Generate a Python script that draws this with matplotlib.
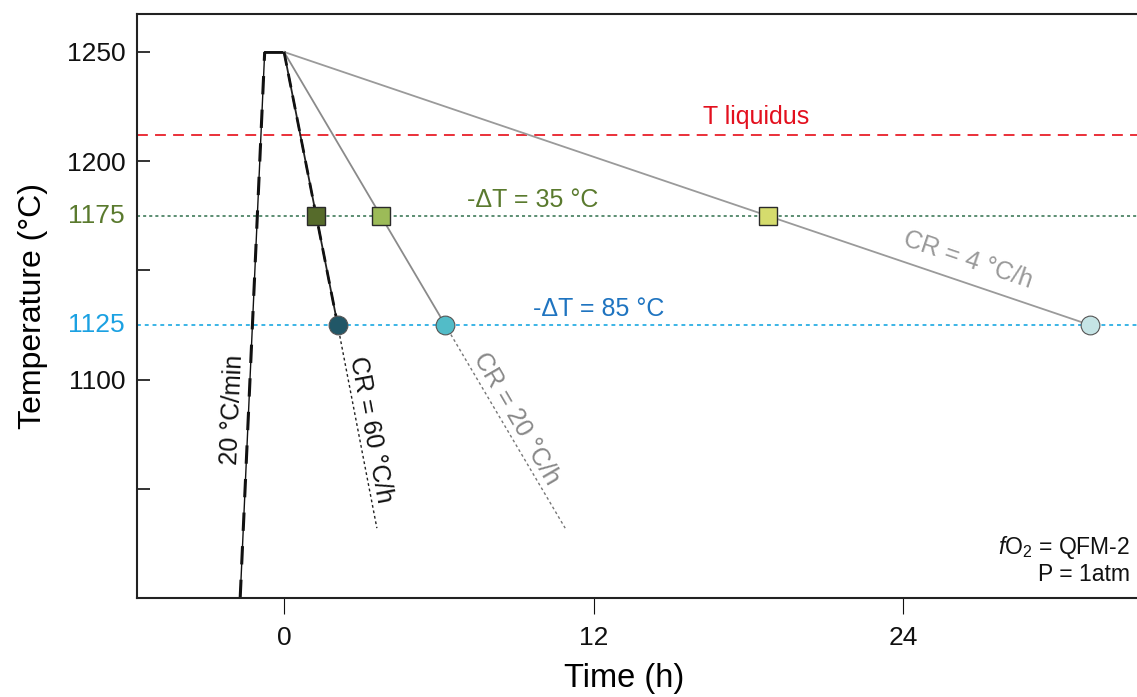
import matplotlib
matplotlib.use("Agg")
import matplotlib.pyplot as plt

plt.rcParams['font.family'] = ['Liberation Sans', 'DejaVu Sans']
plt.rcParams['mathtext.fontset'] = 'custom'
plt.rcParams['mathtext.rm'] = 'Liberation Sans'
plt.rcParams['mathtext.it'] = 'Liberation Sans:italic'

# heating ramp and dwell (time h, temperature °C)
heat_t = [-1.7, -0.75, 0.0]
heat_T = [1000, 1250, 1250]

# cooling paths: CR = 60, 20, 4 °C/h
rates = ["60", "20", "4"]
t_1175 = [1.25, 3.75, 18.75]
t_1125 = [2.08, 6.25, 31.25]
t_end = [3.6, 10.9]
T_end = [1032, 1032]

T_liquidus = 1212
T_dT35 = 1175
T_dT85 = 1125

sq_colors = ["#566b2b", "#9cbb58", "#d5dc6d"]
ci_colors = ["#215767", "#52bcc8", "#c5e4e5"]
line_colors = ["#222222", "#8a8a8a", "#9a9a9a"]

fig = plt.figure(figsize=(11.37, 6.97), dpi=100)
ax = fig.add_axes([0.1205, 0.142, 0.8795, 0.838])
ax.set_xlim(-5.7, 33.07)
ax.set_ylim(1000, 1267.4)

# reference lines
ax.axhline(T_liquidus, color="#e8202a", lw=1.3, ls=(0, (6, 4)), zorder=1)
ax.axhline(T_dT35, color="#2f6f4c", lw=1.1, ls=(0, (2, 2)), zorder=1)
ax.axhline(T_dT85, color="#3bb4e6", lw=1.4, ls=(0, (2, 2)), zorder=1)

# heating
ax.plot(heat_t, heat_T, color="#111111", lw=1.0, zorder=2)
ax.plot(heat_t[:2], heat_T[:2], color="#111111", lw=2.2, ls=(0, (6, 5)), zorder=2)
ax.plot(heat_t[1:], heat_T[1:], color="#111111", lw=2.0, zorder=2)

# cooling lines
for i in range(3):
    ax.plot([0, t_1125[i]], [1250, T_dT85], color=line_colors[i], lw=1.3, zorder=2)
ax.plot([0, t_1125[0]], [1250, T_dT85], color="#111111", lw=2.0,
        ls=(0, (5, 3)), zorder=2)
ax.plot([t_1125[0], t_end[0]], [T_dT85, T_end[0]], color="#222222", lw=1.0,
        ls=(0, (2, 2)), zorder=2)
ax.plot([t_1125[1], t_end[1]], [T_dT85, T_end[1]], color="#777777", lw=1.0,
        ls=(0, (2, 2)), zorder=2)

# markers
for i in range(3):
    ax.plot(t_1175[i], T_dT35, marker="s", ms=13, mfc=sq_colors[i],
            mec="#2a2a2a", mew=1.0, ls="none", zorder=4)
    ax.plot(t_1125[i], T_dT85, marker="o", ms=13.5, mfc=ci_colors[i],
            mec="#555555", mew=0.8, ls="none", zorder=4)

# annotations
ax.text(18.3, 1220, "T liquidus", color="#e3101e", fontsize=18,
        ha="center", va="center")
ax.text(9.65, 1182.3, "-ΔT = 35 °C", color="#5a7a2e", fontsize=18,
        ha="center", va="center")
ax.text(12.2, 1132.3, "-ΔT = 85 °C", color="#1f74c0", fontsize=18,
        ha="center", va="center")
ax.text(26.5, 1155, "CR = 4 °C/h", color="#999999", fontsize=18,
        ha="center", va="center", rotation=-18.7, rotation_mode="anchor")
ax.text(9.0, 1082, "CR = 20 °C/h", color="#888888", fontsize=18,
        ha="center", va="center", rotation=-59.8, rotation_mode="anchor")
ax.text(3.35, 1077, "CR = 60 °C/h", color="#111111", fontsize=18,
        ha="center", va="center", rotation=-79.3, rotation_mode="anchor")
ax.text(-1.98, 1086, "20 °C/min", color="#111111", fontsize=18,
        ha="center", va="center", rotation=87.4, rotation_mode="anchor")
ax.text(0.993, 0.087, "$f$O$_2$ = QFM-2", transform=ax.transAxes, fontsize=16.5,
        ha="right", va="center", color="#111111")
ax.text(0.993, 0.041, "P = 1atm", transform=ax.transAxes, fontsize=16.5,
        ha="right", va="center", color="#111111")

# axes styling
ax.spines["right"].set_visible(False)
for s in ["left", "bottom", "top"]:
    ax.spines[s].set_linewidth(1.5)
    ax.spines[s].set_color("#222222")

ax.set_xticks([0, 12, 24])
ax.tick_params(axis="x", direction="out", length=11.5, width=0.8, pad=9,
               labelsize=19, colors="#111111")
ax.set_yticks([1050, 1100, 1150, 1200, 1250])
ax.set_yticklabels(["", "1100", "", "1200", "1250"])
ax.tick_params(axis="y", direction="in", length=9, width=1.2, pad=8,
               labelsize=19, colors="#111111")
ax.text(-0.012, 1175, "1175", color="#5a7a2e", fontsize=19, ha="right",
        va="center", transform=ax.get_yaxis_transform())
ax.text(-0.012, 1125, "1125", color="#1ba1e2", fontsize=19, ha="right",
        va="center", transform=ax.get_yaxis_transform())

ax.set_xlabel("Time (h)", fontsize=23.5)
ax.xaxis.set_label_coords(0.487, -0.112)
ax.set_ylabel("Temperature (°C)", fontsize=23, labelpad=14)

fig.savefig("out.png", dpi=100)
